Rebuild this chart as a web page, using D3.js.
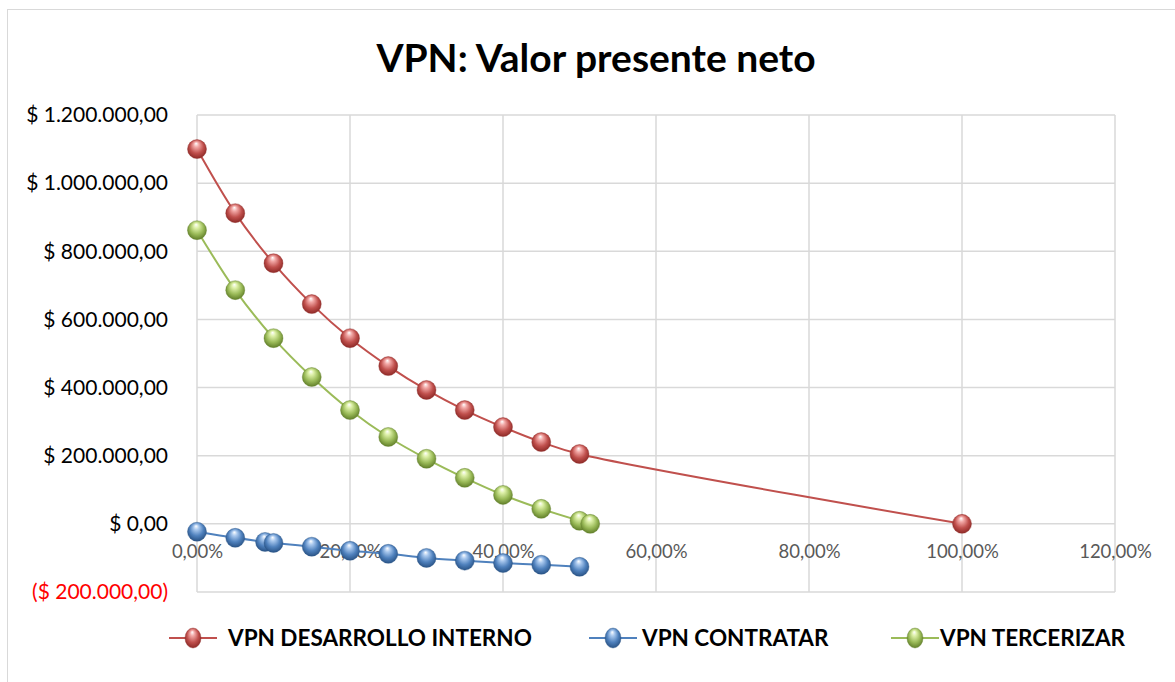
<!DOCTYPE html>
<html>
<head>
<meta charset="UTF-8">
<title>VPN: Valor presente neto</title>
<style>
  body { margin: 0; background: #fff; }
  svg text { font-family: Lato, "Open Sans", sans-serif; }
</style>
</head>
<body>
<div class="chart"></div>
<script src="https://d3js.org/d3.v7.min.js"></script>
<script>
// tasas de descuento
var rates = [0, 0.05, 0.10, 0.15, 0.20, 0.25, 0.30, 0.35, 0.40, 0.45, 0.50];

var ratesInterno = rates.concat([1.00]);
var vpnInterno   = [1100000, 912000, 765000, 645000, 545000, 463000, 393000, 334000, 284000, 240000, 205000, 0];

var ratesContratar = [0, 0.05, 0.089, 0.10, 0.15, 0.20, 0.25, 0.30, 0.35, 0.40, 0.45, 0.50];
var vpnContratar   = [-23000, -41000, -53000, -56000, -67000, -79000, -88000, -100000, -108000, -115000, -120000, -126000];

var ratesTercerizar = rates.concat([0.514]);
var vpnTercerizar   = [862000, 686000, 545000, 431000, 334000, 255000, 191000, 135000, 85000, 44000, 9000, 0];

var xTicks = [0, 0.2, 0.4, 0.6, 0.8, 1.0, 1.2];
var yTicks = [-200000, 0, 200000, 400000, 600000, 800000, 1000000, 1200000];

var series = [
  { name: "VPN DESARROLLO INTERNO", x: ratesInterno, y: vpnInterno, color: "#C0504D", light: "#F2A8A6", dark: "#8E2A27", lx: 193, tx: 228 },
  { name: "VPN CONTRATAR", x: ratesContratar, y: vpnContratar, color: "#4F81BD", light: "#A9C8EE", dark: "#2A5487", lx: 613, tx: 642 },
  { name: "VPN TERCERIZAR", x: ratesTercerizar, y: vpnTercerizar, color: "#9BBB59", light: "#DDF0A8", dark: "#62802A", lx: 915, tx: 940 }
];

var w = 1175, h = 682;
var pLeft = 197, pRight = 1115, pTop = 115, pBottom = 592;

var loc = d3.formatLocale({ decimal: ",", thousands: ".", grouping: [3], currency: ["$ ", ""] });
var money = loc.format(",.2f");
var pct = loc.format(".2%");

var svg = d3.select("div.chart").append("svg")
  .attr("width", w)
  .attr("height", h);

/* gradientes para las esferas */
var defs = svg.append("defs");
series.forEach(function(s, i) {
  var g = defs.append("radialGradient")
    .attr("id", "ball" + i)
    .attr("cx", "50%").attr("cy", "45%").attr("r", "55%")
    .attr("fx", "45%").attr("fy", "20%");
  g.append("stop").attr("offset", "0%").attr("stop-color", "#ffffff");
  g.append("stop").attr("offset", "25%").attr("stop-color", s.light);
  g.append("stop").attr("offset", "65%").attr("stop-color", s.color);
  g.append("stop").attr("offset", "100%").attr("stop-color", s.dark);
});

// marco exterior
svg.append("rect")
  .attr("x", 7.5).attr("y", 9.5)
  .attr("width", w).attr("height", h)
  .attr("fill", "none")
  .attr("stroke", "#d9d9d9");

var xScale = d3.scaleLinear().domain([0, 1.2]).range([pLeft, pRight]);
var yScale = d3.scaleLinear().domain([-200000, 1200000]).range([pBottom, pTop]);

/* grid */
svg.append("g").selectAll("line")
  .data(yTicks).enter().append("line")
  .attr("x1", pLeft).attr("x2", pRight)
  .attr("y1", function(d) { return yScale(d); })
  .attr("y2", function(d) { return yScale(d); })
  .attr("stroke", "#d9d9d9").attr("stroke-width", 1.5);

svg.append("g").selectAll("line")
  .data(xTicks).enter().append("line")
  .attr("x1", function(d) { return xScale(d); })
  .attr("x2", function(d) { return xScale(d); })
  .attr("y1", pTop).attr("y2", pBottom)
  .attr("stroke", "#d9d9d9").attr("stroke-width", 1.5);

/* eje X sobre el cero */
var xAxis = d3.axisBottom(xScale).tickValues(xTicks).tickFormat(pct).tickSize(0).tickPadding(21);
var gx = svg.append("g")
  .attr("transform", "translate(0," + yScale(0) + ")")
  .call(xAxis);
gx.select(".domain").remove();
gx.selectAll("text")
  .attr("font-size", "18.5px")
  .attr("font-family", "Lato, sans-serif")
  .attr("fill", "#595959");

/* eje Y */
var yAxis = d3.axisLeft(yScale).tickValues(yTicks).tickSize(0).tickPadding(29)
  .tickFormat(function(d) { return d < 0 ? "($ " + money(-d) + ")" : "$ " + money(d); });
var gy = svg.append("g")
  .attr("transform", "translate(" + pLeft + ",0)")
  .call(yAxis);
gy.select(".domain").remove();
gy.selectAll("text")
  .attr("font-size", "21px")
  .attr("font-family", "Lato, sans-serif")
  .attr("fill", function(d) { return d < 0 ? "#FF0000" : "#000000"; });

/* lineas y marcadores */
var line = d3.line()
  .x(function(d) { return xScale(d[0]); })
  .y(function(d) { return yScale(d[1]); })
  .curve(d3.curveCatmullRom);

series.forEach(function(s, i) {
  var pts = s.x.map(function(v, j) { return [v, s.y[j]]; });
  svg.append("path")
    .datum(pts)
    .attr("d", line)
    .attr("fill", "none")
    .attr("stroke", s.color)
    .attr("stroke-width", 2);

  svg.append("g").selectAll("circle")
    .data(pts).enter().append("circle")
    .attr("cx", function(d) { return xScale(d[0]); })
    .attr("cy", function(d) { return yScale(d[1]); })
    .attr("r", 9.5)
    .attr("fill", "url(#ball" + i + ")")
    .attr("stroke", s.dark)
    .attr("stroke-opacity", 0.5)
    .attr("stroke-width", 0.8);
});

/* titulo */
svg.append("text")
  .attr("x", 596).attr("y", 72)
  .attr("text-anchor", "middle")
  .attr("font-size", "39px")
  .attr("font-weight", "bold")
  .attr("fill", "#000")
  .text("VPN: Valor presente neto");

/* leyenda */
var lg = svg.append("g");
series.forEach(function(s, i) {
  lg.append("line")
    .attr("x1", s.lx - 24).attr("x2", s.lx + 24)
    .attr("y1", 638).attr("y2", 638)
    .attr("stroke", s.color).attr("stroke-width", 2);
  lg.append("ellipse")
    .attr("cx", s.lx).attr("cy", 638)
    .attr("rx", 8).attr("ry", 10)
    .attr("fill", "url(#ball" + i + ")")
    .attr("stroke", s.dark).attr("stroke-opacity", 0.5).attr("stroke-width", 0.8);
  lg.append("text")
    .attr("x", s.tx).attr("y", 646)
    .attr("font-size", "22.5px")
    .attr("font-weight", "bold")
    .attr("fill", "#000")
    .text(s.name);
});
</script>
</body>
</html>
